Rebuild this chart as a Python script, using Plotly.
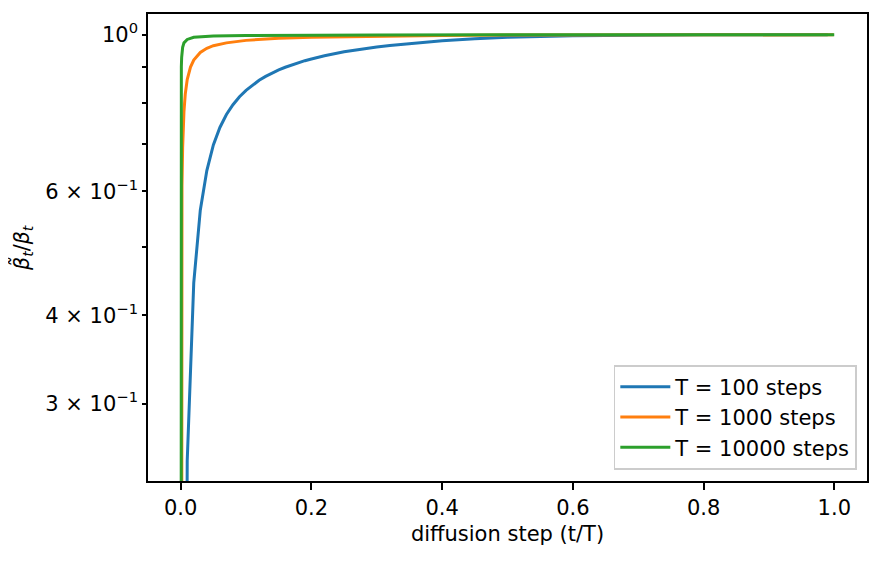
"""Ratio of posterior variance to forward variance over the diffusion steps."""

import plotly.graph_objects as go

# step fraction t/T and ratio beta_tilde/beta
# (first point of each series sits below the visible axis)
steps_100 = [0.0, 0.01, 0.02, 0.03, 0.04, 0.05, 0.06, 0.07, 0.08, 0.09, 0.10,
             0.11, 0.12, 0.13, 0.14, 0.15, 0.16, 0.17, 0.18, 0.19, 0.20, 0.22,
             0.25, 0.27, 0.30, 0.32, 0.35, 0.40, 0.45, 0.50, 0.60, 0.70, 0.80,
             0.90, 0.99]
ratio_100 = [0.001, 0.249, 0.445, 0.564, 0.642, 0.698, 0.739, 0.771, 0.796,
             0.817, 0.834, 0.849, 0.862, 0.873, 0.883, 0.892, 0.8995, 0.9066,
             0.913, 0.919, 0.924, 0.934, 0.946, 0.9525, 0.961, 0.966, 0.9725,
             0.981, 0.987, 0.992, 0.997, 0.9992, 0.9998, 1.0, 1.0]

steps_1000 = [0.0, 0.001, 0.002, 0.003, 0.004, 0.005, 0.007, 0.010, 0.015,
              0.020, 0.030, 0.040, 0.050, 0.070, 0.100, 0.150, 0.200, 0.300,
              0.400, 0.500, 0.600, 0.700, 0.800, 0.999]
ratio_1000 = [0.001, 0.455, 0.611, 0.693, 0.743, 0.778, 0.824, 0.864, 0.900,
              0.921, 0.944, 0.957, 0.965, 0.974, 0.982, 0.989, 0.992, 0.996,
              0.998, 0.999, 0.9997, 0.9999, 1.0, 1.0]

steps_10000 = [0.0, 0.0001, 0.0002, 0.0004, 0.0007, 0.001, 0.0015, 0.002,
               0.003, 0.005, 0.007, 0.01, 0.02, 0.03, 0.05, 0.1, 0.2, 0.3,
               0.5, 0.9999]
ratio_10000 = [0.001, 0.495, 0.660, 0.792, 0.867, 0.901, 0.929, 0.945, 0.960,
               0.974, 0.980, 0.985, 0.992, 0.994, 0.996, 0.998, 0.9992,
               0.9996, 0.9999, 1.0]

series_names = ["T = 100 steps", "T = 1000 steps", "T = 10000 steps"]
series_colors = ["#1f77b4", "#ff7f0e", "#2ca02c"]

x_ticks = [0.0, 0.2, 0.4, 0.6, 0.8, 1.0]
y_labelled = [0.3, 0.4, 0.6, 1.0]
y_labels = ["3 × 10<sup>−1</sup>", "4 × 10<sup>−1</sup>",
            "6 × 10<sup>−1</sup>", "10<sup>0</sup>"]
y_minor = [0.5, 0.7, 0.8, 0.9]
y_title = "<i>β̃</i><sub><i>t</i></sub>/<i>β</i><sub><i>t</i></sub>"

FAMILY = "DejaVu Sans"


def font(size):
    return dict(family=FAMILY, size=size, color="black")


fig = go.Figure()
for xs, ys, name, color in zip(
    [steps_100, steps_1000, steps_10000],
    [ratio_100, ratio_1000, ratio_10000],
    series_names,
    series_colors,
):
    fig.add_trace(go.Scatter(x=xs, y=ys, mode="lines", name=name,
                             line=dict(color=color, width=3)))

y_range = [-0.6326, 0.0295]

# the page body adds 8px on the left and top, so margins are trimmed for it
fig.update_layout(
    width=879,
    height=563,
    margin=dict(l=140, r=20, t=6, b=90),
    plot_bgcolor="white",
    paper_bgcolor="white",
    font=font(20),
    xaxis=dict(
        range=[-0.05, 1.05],
        automargin=False,
        tickvals=x_ticks,
        tickformat=".1f",
        tickfont=font(21),
        ticks="outside",
        ticklen=7,
        tickwidth=1.6,
        tickcolor="black",
        showline=True,
        mirror=True,
        linecolor="black",
        linewidth=1.6,
        showgrid=False,
        zeroline=False,
        title=dict(text="diffusion step (t/T)", font=font(21), standoff=7),
    ),
    yaxis=dict(
        type="log",
        range=y_range,
        automargin=False,
        tickvals=y_labelled,
        ticktext=y_labels,
        tickfont=font(21),
        ticks="outside",
        ticklen=4,
        tickwidth=1.6,
        tickcolor="black",
        minor=dict(tickvals=y_minor, ticks="outside", ticklen=4,
                   tickwidth=1.6, tickcolor="black", showgrid=False),
        showline=True,
        mirror=True,
        linecolor="black",
        linewidth=1.6,
        showgrid=False,
        zeroline=False,
    ),
    # overlay axis only to draw the longer major tick at 10^0
    yaxis2=dict(
        type="log",
        range=y_range,
        overlaying="y",
        automargin=False,
        tickvals=[1.0],
        showticklabels=False,
        ticks="outside",
        ticklen=7,
        tickwidth=1.6,
        tickcolor="black",
        showgrid=False,
        zeroline=False,
        showline=False,
    ),
    legend=dict(
        x=0.9857,
        y=0.0236,
        xanchor="right",
        yanchor="bottom",
        bgcolor="white",
        bordercolor="#cccccc",
        borderwidth=1.6,
        itemwidth=50,
        font=font(21),
    ),
)

# y title as an annotation so it can sit further left than the axis allows
fig.add_annotation(
    text=y_title,
    xref="paper",
    yref="paper",
    x=-0.176,
    y=0.5,
    xanchor="center",
    yanchor="middle",
    textangle=-90,
    showarrow=False,
    font=font(20.5),
)

fig.write_html("out.html")
